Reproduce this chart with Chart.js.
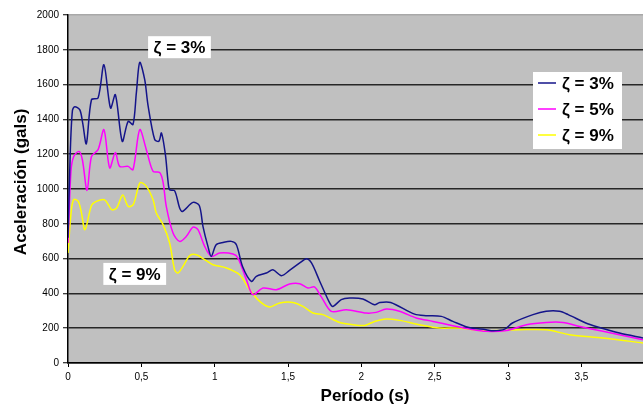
<!DOCTYPE html>
<html>
<head>
<meta charset="utf-8">
<script src="https://cdn.jsdelivr.net/npm/chart.js"></script>
<style>
  html, body { margin: 0; padding: 0; background: #ffffff; }
  canvas { display: block; }
</style>
</head>
<body>
<canvas id="c" width="643" height="410"></canvas>
<script>
// ---- Data ----
const seriesLabels = ['ζ = 3%', 'ζ = 5%', 'ζ = 9%'];

const period3 = [0, 0.015, 0.03, 0.046, 0.08, 0.1, 0.125, 0.16, 0.205, 0.245, 0.29, 0.323, 0.37, 0.41, 0.443, 0.466, 0.489, 0.523, 0.545, 0.591, 0.62, 0.637, 0.664, 0.682, 0.693, 0.727, 0.761, 0.78, 0.852, 0.895, 0.92, 0.954, 0.977, 1.01, 1.057, 1.114, 1.148, 1.19, 1.25, 1.284, 1.352, 1.397, 1.455, 1.51, 1.58, 1.625, 1.66, 1.716, 1.784, 1.806, 1.863, 1.92, 2.01, 2.09, 2.125, 2.2, 2.363, 2.44, 2.545, 2.624, 2.727, 2.85, 2.9, 2.977, 3.03, 3.17, 3.26, 3.35, 3.41, 3.53, 3.6, 3.76, 3.92];
const accel3  = [720, 1200, 1450, 1473, 1456, 1380, 1260, 1513, 1523, 1714, 1465, 1542, 1274, 1389, 1370, 1552, 1728, 1628, 1484, 1284, 1275, 1322, 1197, 1044, 996, 990, 891, 871, 923, 905, 785, 670, 613, 680, 693, 699, 680, 555, 469, 498, 517, 536, 502, 532, 575, 599, 575, 470, 345, 325, 364, 373, 368, 335, 348, 348, 281, 272, 268, 239, 205, 191, 185, 195, 230, 278, 297, 297, 278, 230, 210, 172, 144];

const period5 = [0, 0.02, 0.039, 0.075, 0.098, 0.13, 0.16, 0.205, 0.245, 0.284, 0.323, 0.352, 0.41, 0.443, 0.489, 0.534, 0.58, 0.625, 0.648, 0.67, 0.716, 0.761, 0.807, 0.852, 0.886, 0.932, 0.977, 1.034, 1.125, 1.159, 1.216, 1.26, 1.33, 1.42, 1.51, 1.58, 1.636, 1.68, 1.727, 1.795, 1.898, 2.034, 2.1, 2.17, 2.26, 2.374, 2.488, 2.624, 2.738, 2.85, 2.99, 3.125, 3.26, 3.374, 3.49, 3.647, 3.92];
const accel5  = [690, 1100, 1187, 1216, 1168, 992, 1187, 1226, 1341, 1121, 1210, 1130, 1130, 1111, 1341, 1226, 1101, 1095, 1040, 900, 747, 699, 728, 781, 766, 670, 613, 632, 626, 603, 479, 393, 431, 421, 454, 456, 431, 437, 380, 297, 306, 287, 291, 310, 297, 259, 239, 214, 195, 182, 187, 220, 233, 233, 210, 182, 134];

const period9 = [0, 0.023, 0.04, 0.07, 0.09, 0.116, 0.16, 0.193, 0.25, 0.298, 0.332, 0.373, 0.41, 0.446, 0.491, 0.534, 0.58, 0.602, 0.648, 0.693, 0.727, 0.75, 0.784, 0.83, 0.875, 0.932, 0.988, 1.08, 1.17, 1.239, 1.307, 1.375, 1.443, 1.534, 1.602, 1.67, 1.738, 1.852, 1.943, 2.023, 2.09, 2.17, 2.26, 2.397, 2.534, 2.67, 2.806, 2.965, 3.08, 3.26, 3.42, 3.647, 3.92];
const accel9  = [632, 881, 940, 929, 870, 766, 905, 929, 938, 881, 891, 965, 900, 912, 1036, 1015, 938, 862, 795, 690, 536, 517, 555, 617, 622, 594, 565, 546, 507, 421, 354, 322, 345, 348, 325, 287, 278, 233, 220, 216, 239, 253, 245, 220, 201, 201, 187, 187, 191, 191, 163, 144, 115];

const yTickValues = [0, 200, 400, 600, 800, 1000, 1200, 1400, 1600, 1800, 2000];
const xTickValues = [0, 0.5, 1, 1.5, 2, 2.5, 3, 3.5];
const noteTexts = ['ζ = 3%', 'ζ = 9%'];

// ---- helpers ----
function toPoints(xs, ys) { return xs.map((x, i) => ({ x: x, y: ys[i] })); }
const colors = ['#14148a', '#ff00ff', '#ffff00'];
const FONT = '"Liberation Sans", Arial, sans-serif';

const plotBg = {
  id: 'plotBg',
  beforeDraw(chart) {
    const { ctx, chartArea: a } = chart;
    ctx.save();
    ctx.fillStyle = '#c0c0c0';
    ctx.fillRect(a.left, a.top, a.right - a.left, a.bottom - a.top);
    ctx.restore();
  }
};

const notes = {
  id: 'notes',
  afterDatasetsDraw(chart, args, opts) {
    const { ctx } = chart;
    const xs = chart.scales.x, ys = chart.scales.y;
    ctx.save();
    ctx.font = 'bold 17px ' + FONT;
    ctx.textAlign = 'center';
    ctx.textBaseline = 'middle';
    opts.items.forEach(it => {
      const px = xs.getPixelForValue(it.x);
      const py = ys.getPixelForValue(it.y);
      const w = ctx.measureText(it.text).width + 11;
      const h = 22;
      ctx.fillStyle = '#ffffff';
      ctx.fillRect(px - w / 2, py - h / 2, w, h);
      ctx.fillStyle = '#000000';
      ctx.fillText(it.text, px, py + 1);
    });
    ctx.restore();
  }
};

const boxLegend = {
  id: 'boxLegend',
  afterDraw(chart) {
    const { ctx, chartArea: a } = chart;
    const left = a.right - 110, top = a.top + 57, w = 89, h = 77;
    ctx.save();
    ctx.fillStyle = '#ffffff';
    ctx.fillRect(left, top, w, h);
    ctx.font = 'bold 17px ' + FONT;
    ctx.textAlign = 'left';
    ctx.textBaseline = 'middle';
    chart.data.datasets.forEach((ds, i) => {
      const y = top + 11 + i * 26;
      ctx.strokeStyle = ds.borderColor;
      ctx.lineWidth = 1.5;
      ctx.beginPath();
      ctx.moveTo(left + 5, y);
      ctx.lineTo(left + 23, y);
      ctx.stroke();
      ctx.fillStyle = '#000000';
      ctx.fillText(ds.label, left + 29, y + 1);
    });
    ctx.restore();
  }
};

const commaFmt = v => String(v).replace('.', ',');

new Chart(document.getElementById('c'), {
  type: 'line',
  data: {
    datasets: [
      { label: seriesLabels[0], data: toPoints(period3, accel3), borderColor: colors[0] },
      { label: seriesLabels[1], data: toPoints(period5, accel5), borderColor: colors[1] },
      { label: seriesLabels[2], data: toPoints(period9, accel9), borderColor: colors[2] }
    ].map(d => Object.assign(d, { borderWidth: 1.5, pointRadius: 0, fill: false, tension: 0.3 }))
  },
  options: {
    responsive: false,
    animation: false,
    devicePixelRatio: 1,
    layout: { padding: { left: 0, right: 0, top: 15, bottom: 0 } },
    plugins: {
      legend: { display: false },
      tooltip: { enabled: false },
      notes: { items: [
        { text: noteTexts[0], x: 0.76, y: 1815 },
        { text: noteTexts[1], x: 0.455, y: 512 }
      ] }
    },
    scales: {
      x: {
        type: 'linear',
        min: 0,
        max: 3.92,
        afterBuildTicks: s => { s.ticks = xTickValues.map(v => ({ value: v })); },
        afterFit: s => { s.height = 47; },
        ticks: { callback: v => commaFmt(v), font: { size: 10, family: FONT }, color: '#000', padding: 4, maxRotation: 0, autoSkip: false },
        grid: { drawOnChartArea: false, drawTicks: true, tickLength: 4, tickColor: '#000', tickWidth: 1 },
        border: { color: '#000', width: 1.5 },
        title: { display: true, text: '    Período (s)', font: { size: 17, weight: 'bold', family: FONT }, color: '#000', padding: { top: 0, bottom: 3 } }
      },
      y: {
        min: 0,
        max: 2000,
        afterBuildTicks: s => { s.ticks = yTickValues.map(v => ({ value: v })); },
        afterFit: s => { s.width = 68; },
        ticks: { callback: v => String(v), font: { size: 10, family: FONT }, color: '#000', padding: 4 },
        grid: {
          color: c => (c.tick && c.tick.value === 2000) ? '#a8a8a8' : '#262626',
          lineWidth: 1.5,
          tickLength: 5,
          tickColor: '#000',
          tickWidth: 1
        },
        border: { color: '#000', width: 1.5 },
        title: { display: true, text: '   Aceleración (gals)', font: { size: 17, weight: 'bold', family: FONT }, color: '#000', padding: { top: 11, bottom: 0 } }
      }
    }
  },
  plugins: [plotBg, notes, boxLegend]
});
</script>
</body>
</html>
